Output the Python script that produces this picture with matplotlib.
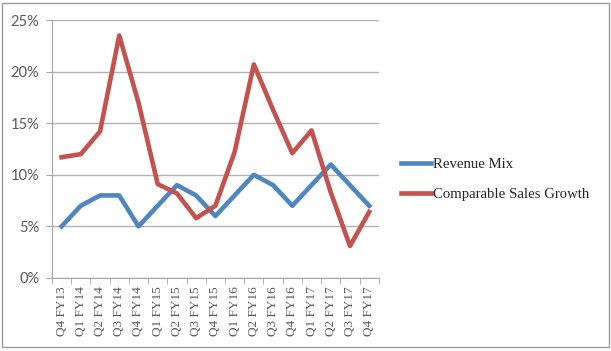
import matplotlib.pyplot as plt
from matplotlib.patches import Rectangle
from matplotlib.ticker import FixedLocator, PercentFormatter

quarters = ["Q4 FY13", "Q1 FY14", "Q2 FY14", "Q3 FY14", "Q4 FY14", "Q1 FY15",
            "Q2 FY15", "Q3 FY15", "Q4 FY15", "Q1 FY16", "Q2 FY16", "Q3 FY16",
            "Q4 FY16", "Q1 FY17", "Q2 FY17", "Q3 FY17", "Q4 FY17"]
revenue_mix = [5, 7, 8, 8, 5, 7, 9, 8, 6, 8, 10, 9, 7, 9, 11, 9, 7]
comp_sales = [11.7, 12.0, 14.2, 23.5, 17.0, 9.1, 8.2, 5.8, 7.0, 12.2, 20.7,
              16.3, 12.1, 14.3, 8.3, 3.1, 6.4]

plt.rcParams['font.family'] = ['Liberation Serif', 'DejaVu Serif']
grey = '#595959'
axis_c = '#a6a6a6'

fig = plt.figure(figsize=(6.11, 3.51), dpi=100)
ax = fig.add_axes([0.085, 0.208, 0.535, 0.735])

x = range(len(quarters))
ax.plot(x, revenue_mix, color='#4f86c2', lw=3.3, label='Revenue Mix')
ax.plot(x, comp_sales, color='#c4524e', lw=3.3, label='Comparable Sales Growth')

ax.set_xlim(-0.5, len(quarters) - 0.5)
ax.set_ylim(0, 25)
ax.set_yticks([0, 5, 10, 15, 20, 25])
ax.yaxis.set_major_formatter(PercentFormatter(decimals=0))
ax.yaxis.grid(True, color='#b3b3b3', lw=1)
ax.set_axisbelow(True)

ax.set_xticks(list(x))
ax.set_xticklabels(quarters, rotation=90, fontsize=9.5, color=grey)
ax.tick_params(axis='x', length=0, pad=6)
ax.xaxis.set_minor_locator(FixedLocator([i - 0.5 for i in range(len(quarters) + 1)]))
ax.tick_params(axis='x', which='minor', length=4, color=axis_c)
ax.tick_params(axis='y', length=4, color=axis_c, labelsize=10.5, labelcolor=grey, pad=5)
for lab in ax.get_yticklabels():
    lab.set_family(['Lato', 'DejaVu Sans'])

for s in ['top', 'right']:
    ax.spines[s].set_visible(False)
for s in ['left', 'bottom']:
    ax.spines[s].set_color(axis_c)

fig.legend(loc='upper left', bbox_to_anchor=(0.657, 0.55), frameon=False,
           fontsize=10.6, handlelength=2.0, handletextpad=0.15, labelspacing=1.15,
           borderpad=0, borderaxespad=0, labelcolor='#262626')

fig.patches.append(Rectangle((0.004, 0.01), 0.992, 0.982, transform=fig.transFigure,
                             fill=False, edgecolor='#9a9a9a', lw=1))

fig.savefig('out.png', dpi=100)
